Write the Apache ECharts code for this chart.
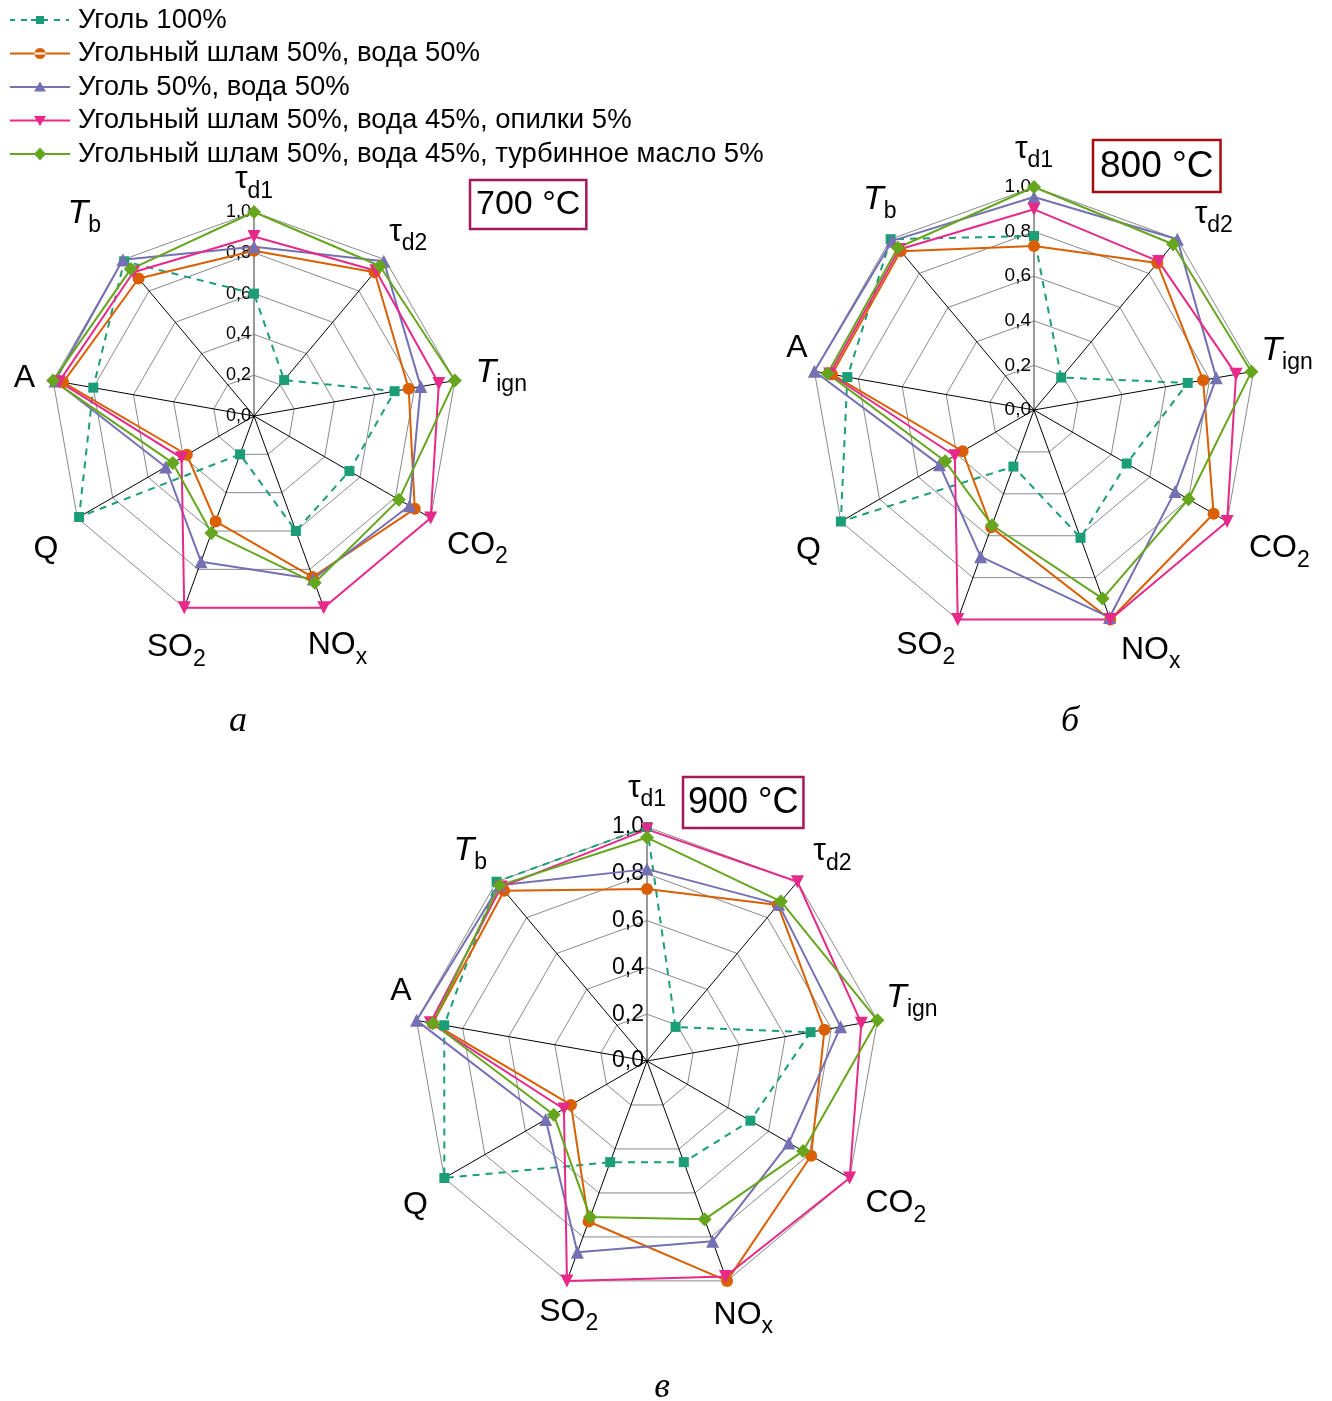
<!DOCTYPE html>
<html><head><meta charset="utf-8">
<script src="https://cdn.jsdelivr.net/npm/echarts@6/dist/echarts.min.js"></script>
<style>html,body{margin:0;padding:0;background:#fff}#c{width:1332px;height:1401px}</style>
</head><body><div id="c"></div>
<script>
// Axes, clockwise from the top
const axisKeys = ['τ_d1', 'τ_d2', 'T_ign', 'CO_2', 'NO_x', 'SO_2', 'Q', 'A', 'T_b'];
const axisMin = 0, axisMax = 1.0, axisSplits = 5;
const seriesNames = [
  'Уголь 100%',
  'Угольный шлам 50%, вода 50%',
  'Уголь 50%, вода 50%',
  'Угольный шлам 50%, вода 45%, опилки 5%',
  'Угольный шлам 50%, вода 45%, турбинное масло 5%'
];
const panelTitles = ['700 °C', '800 °C', '900 °C'];
const panelLetters = ['а', 'б', 'в'];

// 700 °C (values in clockwise axis order)
const t700_coal100   = [0.60, 0.23, 0.70, 0.54, 0.60, 0.20, 0.99, 0.80, 0.99];
const t700_slurry    = [0.81, 0.92, 0.77, 0.91, 0.84, 0.55, 0.38, 0.95, 0.88];
const t700_coalWater = [0.83, 0.99, 0.83, 0.88, 0.85, 0.76, 0.50, 0.99, 1.00];
const t700_sawdust   = [0.88, 0.93, 0.92, 1.00, 1.00, 1.00, 0.41, 0.97, 0.92];
const t700_oil       = [1.00, 0.96, 1.00, 0.82, 0.87, 0.61, 0.46, 1.00, 0.94];
// 800 °C
const t800_coal100   = [0.78, 0.19, 0.70, 0.48, 0.61, 0.27, 1.00, 0.85, 1.00];
const t800_slurry    = [0.735, 0.86, 0.77, 0.93, 1.00, 0.56, 0.37, 0.92, 0.93];
const t800_coalWater = [0.955, 1.00, 0.83, 0.73, 0.99, 0.70, 0.49, 1.00, 0.99];
const t800_sawdust   = [0.90, 0.87, 0.92, 1.00, 1.00, 1.00, 0.41, 0.93, 0.94];
const t800_oil       = [1.00, 0.97, 0.99, 0.80, 0.90, 0.55, 0.46, 0.94, 0.95];
// 900 °C
const t900_coal100   = [1.00, 0.19, 0.71, 0.51, 0.46, 0.46, 1.00, 0.88, 1.00];
const t900_slurry    = [0.735, 0.87, 0.77, 0.81, 1.00, 0.73, 0.375, 0.93, 0.95];
const t900_coalWater = [0.82, 0.875, 0.84, 0.70, 0.82, 0.87, 0.50, 1.00, 0.98];
const t900_sawdust   = [0.99, 1.00, 0.93, 1.00, 0.98, 1.00, 0.41, 0.94, 0.97];
const t900_oil       = [0.955, 0.89, 1.00, 0.77, 0.72, 0.71, 0.46, 0.93, 0.98];

const panelData = [
  [t700_coal100, t700_slurry, t700_coalWater, t700_sawdust, t700_oil],
  [t800_coal100, t800_slurry, t800_coalWater, t800_sawdust, t800_oil],
  [t900_coal100, t900_slurry, t900_coalWater, t900_sawdust, t900_oil]
];

// ---- styling / layout ----
const colors = ['#1b9e77', '#d95f02', '#7570b3', '#e7298a', '#66a61e'];
const symbols = ['rect', 'circle', 'triangle', 'triangle', 'diamond'];
const symbolRot = [0, 0, 0, 180, 0];
const symbolSizes = [10, 12, 13, 13, 14];
const panels = [
  { center: [254, 416], radius: 204, tickFont: 18,
    gaps: [29, 36, 47, 54, 40, 38, 42, 29, 60],
    shifts: [[0,0],[0,0],[0,0],[0,0],[0,0],[5,4],[5,10],[0,3],[0,0]],
    box: { x: 470, y: 180, font: 34, color: '#a3195b', pad: [8, 6, 7, 6] }, letter: [238, 722] },
  { center: [1034, 410], radius: 223, tickFont: 19,
    gaps: [38, 38, 40, 58, 45, 38, 42, 28, 37],
    shifts: [[0,0],[12,4],[-6,-14],[2,-2],[25,-12],[-19,-10],[4,8],[10,-18],[13,-11]],
    box: { x: 1093, y: 140, font: 37, color: '#a30d12', pad: [8, 7, 7, 7] }, letter: [1070, 722] },
  { center: [647, 1061], radius: 234, tickFont: 23,
    gaps: [37, 42, 40, 51, 36, 30, 38, 24, 41],
    shifts: [[0,-2],[8,2],[-5,-16],[2,0],[4,0],[12,3],[4,8],[8,-25],[0,0]],
    box: { x: 683, y: 777, font: 36, color: '#a3195b', pad: [8, 5, 7, 5] }, letter: [662, 1388] }
];
const FONT = '"Liberation Sans", Arial, sans-serif';

// ECharts places indicators counter-clockwise; reorder clockwise arrays
const ccwOrder = [0, 8, 7, 6, 5, 4, 3, 2, 1];
const reorder = arr => ccwOrder.map(i => arr[i]);

function richName(k) {
  const parts = k.split('_');
  const base = parts[0] === 'T' ? '{i|T}' : '{m|' + parts[0] + '}';
  return parts[1] ? base + '{s|' + parts[1] + '}' : base;
}
function shiftPadding(s) {
  const dx = s[0], dy = s[1];
  return [dy > 0 ? 2 * dy : 0, dx < 0 ? -2 * dx : 0, dy < 0 ? -2 * dy : 0, dx > 0 ? 2 * dx : 0];
}

const radars = panels.map((p, pi) => ({
  center: p.center,
  radius: p.radius,
  startAngle: 90,
  shape: 'polygon',
  splitNumber: axisSplits,
  axisName: {
    color: '#000',
    align: 'center',
    verticalAlign: 'middle',
    rich: {
      m: { fontSize: 32, fontFamily: FONT, color: '#000' },
      i: { fontSize: 34, fontFamily: FONT, fontStyle: 'italic', color: '#000' },
      s: { fontSize: 23, fontFamily: FONT, color: '#000', padding: [24, 0, 0, 0] }
    }
  },
  axisLine: { lineStyle: { color: '#000', width: 1 } },
  splitLine: { lineStyle: { color: '#8a8a8a', width: 1 } },
  splitArea: { show: false },
  axisTick: { show: false },
  axisLabel: { show: false },
  indicator: reorder(axisKeys.map((k, ai) => {
    const ind = {
      name: richName(k), min: axisMin, max: axisMax, nameGap: p.gaps[ai],
      nameTextStyle: { padding: shiftPadding(p.shifts[ai]) }
    };
    if (ai === 0) {
      ind.axisLabel = {
        show: true, fontSize: p.tickFont, fontFamily: FONT, color: '#000', margin: 3,
        formatter: v => Number(v).toFixed(1).replace('.', ',')
      };
      ind.axisLine = { lineStyle: { color: '#777', width: 1.5 } };
    }
    return ind;
  }))
}));

const series = panelData.map((sets, pi) => ({
  type: 'radar',
  radarIndex: pi,
  z: 3,
  data: sets.map((vals, si) => ({
    name: seriesNames[si],
    value: reorder(vals),
    symbol: symbols[si],
    symbolSize: symbolSizes[si],
    symbolRotate: symbolRot[si],
    itemStyle: { color: colors[si] },
    lineStyle: { color: colors[si], width: 2, type: si === 0 ? [7, 6] : 'solid' }
  }))
}));

// legend icons (60 x 14 box): line + marker
const anchors = 'M0,0 M60,14 ';
const legendIcons = [
  'path://' + anchors + 'M0,6h5v2h-5z M11,6h6v2h-6z M21,6h5v2h-5z M26,3h8v8h-8z M34,6h4v2h-4z M44,6h6v2h-6z M56,6h3v2h-3z',
  'path://' + anchors + 'M0,6h60v2h-60z M24.5,7a5.5,5.5 0 1,0 11,0a5.5,5.5 0 1,0 -11,0z',
  'path://' + anchors + 'M0,6h60v2h-60z M30,1.5L36,11.5L24,11.5z',
  'path://' + anchors + 'M0,6h60v2h-60z M24,2.5L36,2.5L30,12.5z',
  'path://' + anchors + 'M0,6h60v2h-60z M30,0.5L36,7L30,13.5L24,7z'
];

const graphics = [];
panels.forEach((p, pi) => {
  graphics.push({
    type: 'text', x: p.box.x, y: p.box.y, z: 10,
    style: {
      text: panelTitles[pi], font: p.box.font + 'px ' + FONT, fill: '#000',
      align: 'left', verticalAlign: 'top',
      borderColor: p.box.color, borderWidth: 2.5, padding: p.box.pad
    }
  });
  graphics.push({
    type: 'text', x: p.letter[0], y: p.letter[1], z: 10,
    style: {
      text: panelLetters[pi], font: 'italic 36px "Liberation Serif", "Times New Roman", serif',
      fill: '#000', align: 'center', verticalAlign: 'middle'
    }
  });
});

const chart = echarts.init(document.getElementById('c'), null, { renderer: 'canvas' });
chart.setOption({
  animation: false,
  backgroundColor: '#fff',
  legend: {
    orient: 'vertical', left: 5, top: 1, itemWidth: 60, itemHeight: 14, itemGap: 5.5,
    selectedMode: false,
    textStyle: { fontSize: 27.5, fontFamily: FONT, color: '#000', padding: [0, 0, 0, 3] },
    data: seriesNames.map((n, i) => ({ name: n, icon: legendIcons[i], itemStyle: { color: colors[i] } }))
  },
  radar: radars,
  series: series,
  graphic: graphics
});
</script>
</body></html>
